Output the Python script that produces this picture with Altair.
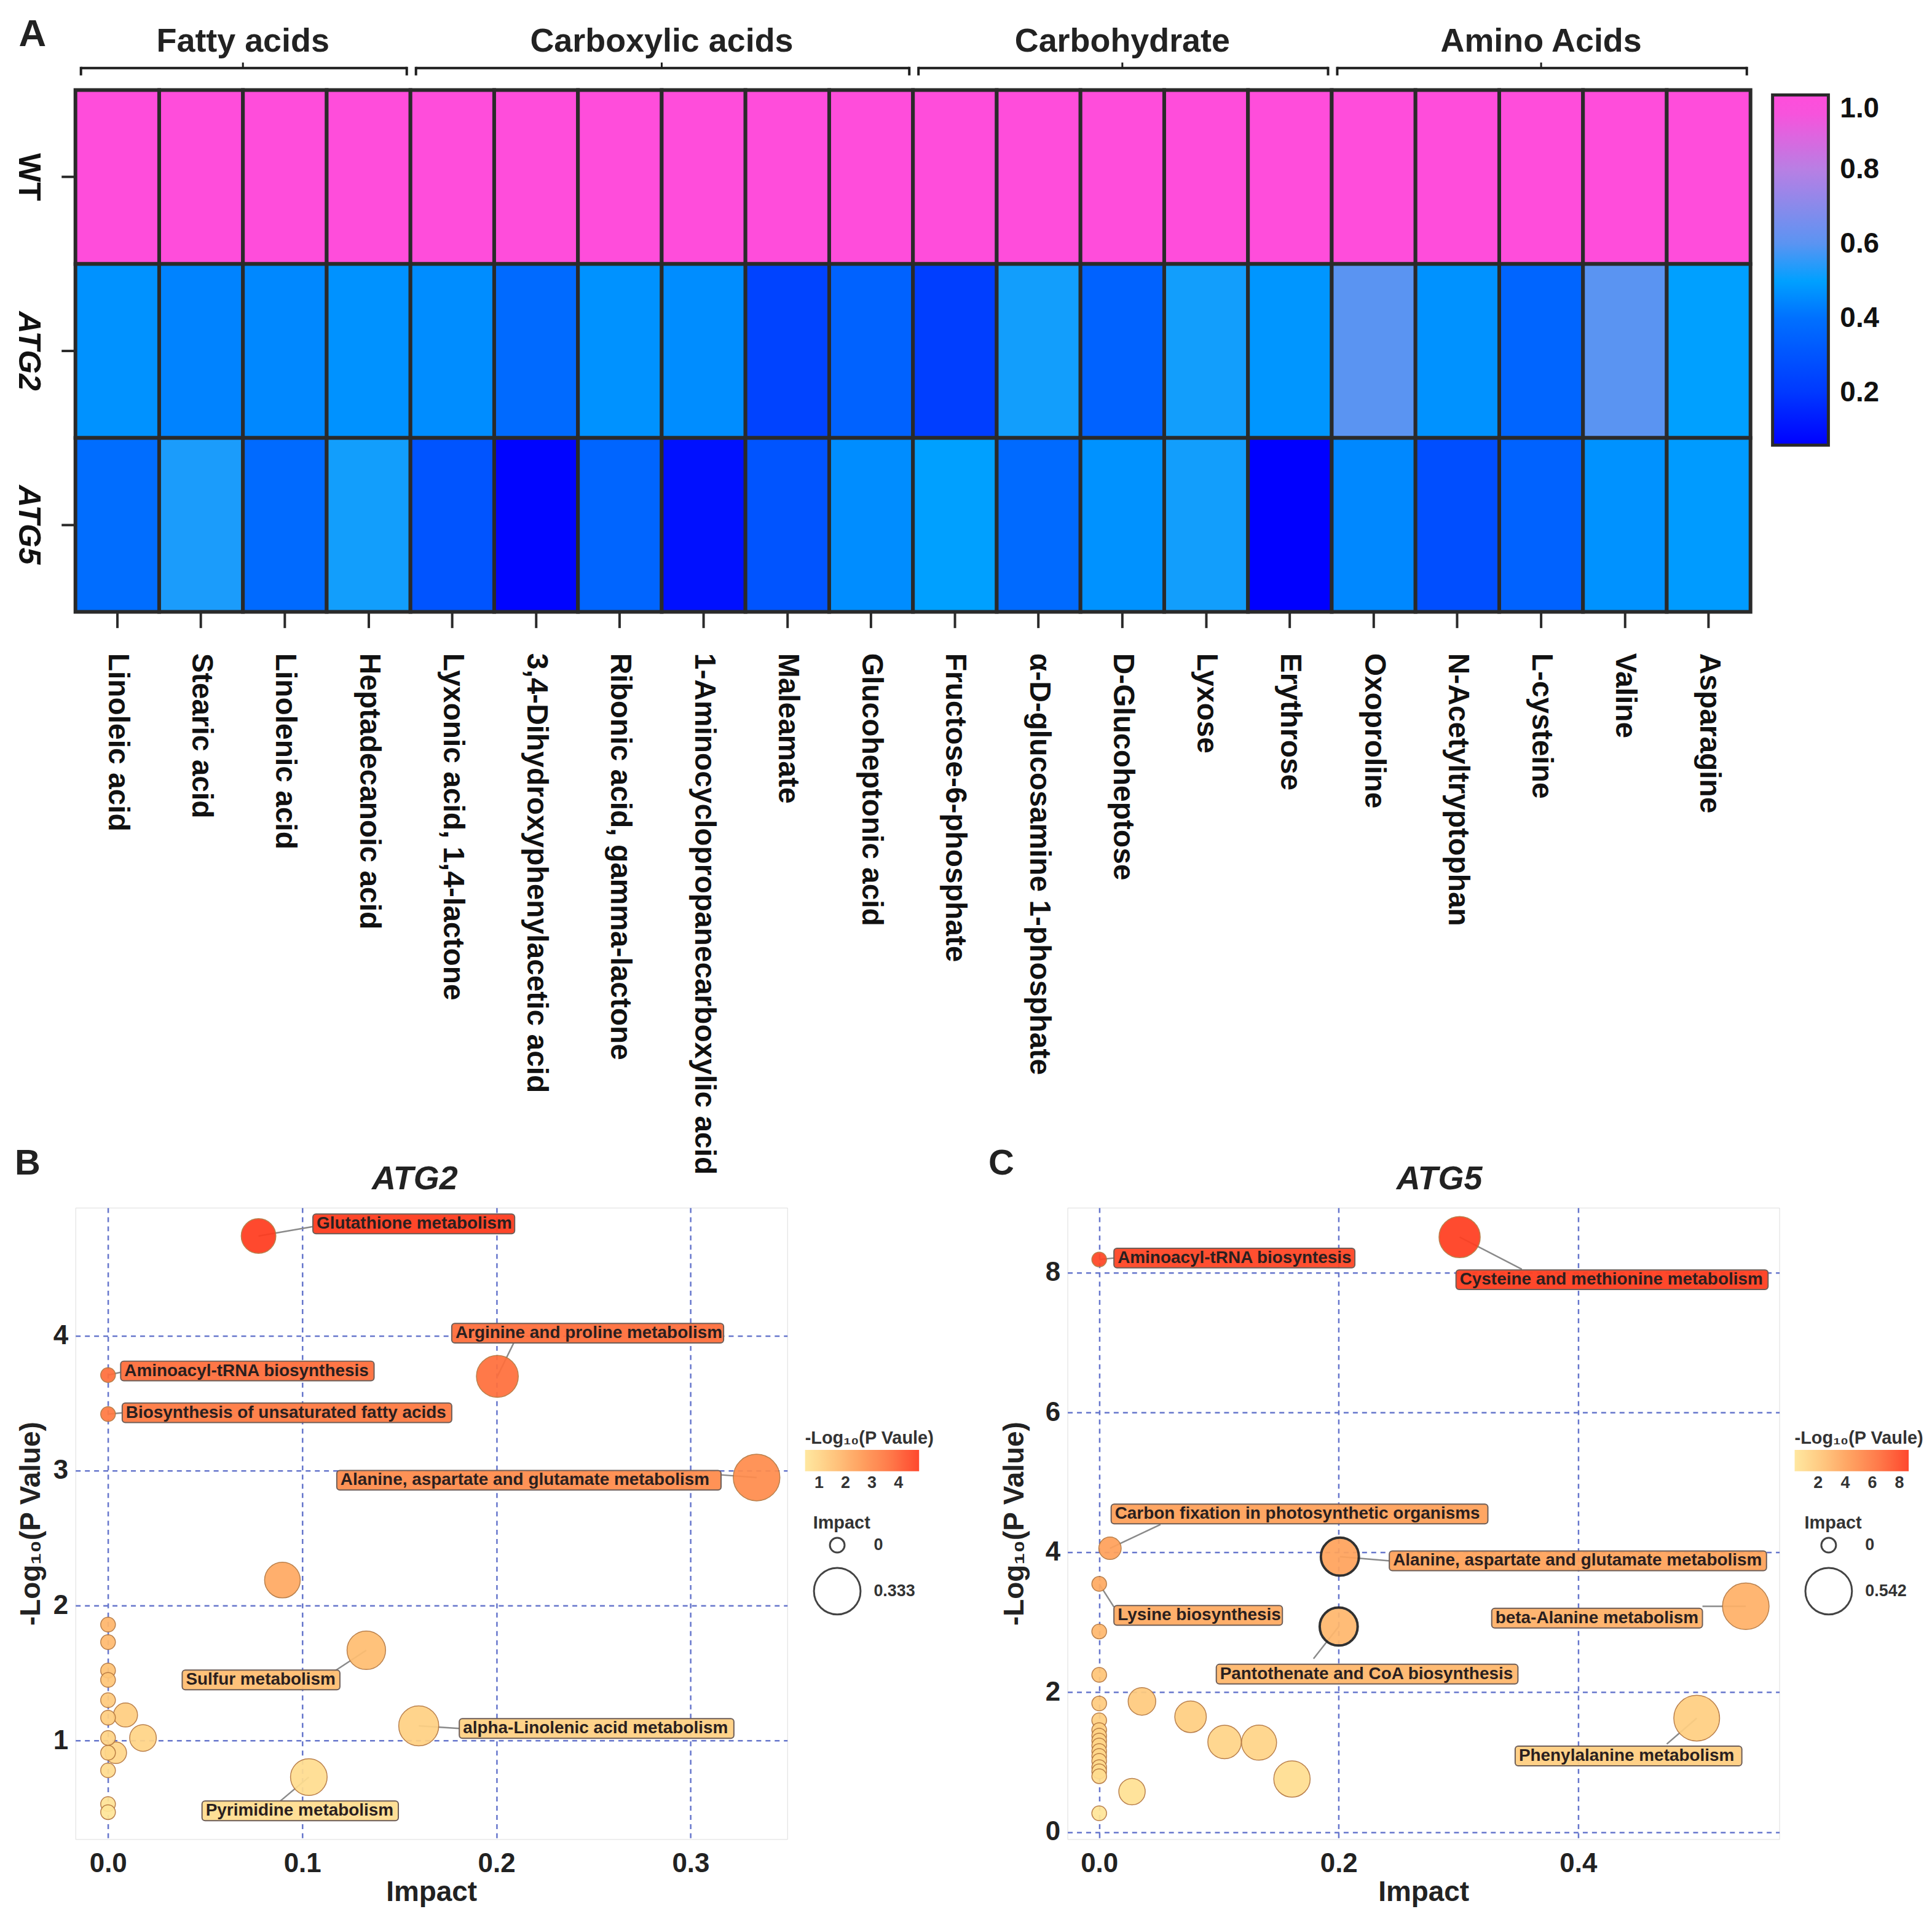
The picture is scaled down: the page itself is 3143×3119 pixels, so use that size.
import altair as alt
import pandas as pd

FONT = "Liberation Sans, Arial, Helvetica, sans-serif"
INK = "#1e1e1e"

# ---------------- Panel A: heatmap ----------------
metabolites = [
    "Linoleic acid", "Stearic acid", "Linolenic acid", "Heptadecanoic acid",
    "Lyxonic acid, 1,4-lactone", "3,4-Dihydroxyphenylacetic acid", "Ribonic acid, gamma-lactone",
    "1-Aminocyclopropanecarboxylic acid", "Maleamate", "Glucoheptonic acid",
    "Fructose-6-phosphate", "α-D-glucosamine 1-phosphate", "D-Glucoheptose", "Lyxose", "Erythrose",
    "Oxoproline", "N-Acetyltryptophan", "L-cysteine", "Valine", "Asparagine",
]
groups = ["Fatty acids", "Carboxylic acids", "Carbohydrate", "Amino Acids"]
group_sizes = [4, 6, 5, 5]
samples = ["WT", "ATG2", "ATG5"]
wt_values = [1.0, 1.0, 1.0, 1.0, 1.0, 1.0, 1.0, 1.0, 1.0, 1.0,
             1.0, 1.0, 1.0, 1.0, 1.0, 1.0, 1.0, 1.0, 1.0, 1.0]
atg2_values = [0.47, 0.44, 0.45, 0.47, 0.46, 0.38, 0.47, 0.46, 0.24, 0.35,
               0.22, 0.52, 0.35, 0.52, 0.48, 0.60, 0.47, 0.36, 0.60, 0.50]
atg5_values = [0.39, 0.53, 0.38, 0.52, 0.30, 0.07, 0.36, 0.10, 0.30, 0.46,
               0.50, 0.38, 0.47, 0.52, 0.06, 0.45, 0.28, 0.35, 0.47, 0.49]
heat_ticks = [0.2, 0.4, 0.6, 0.8, 1.0]
heat_domain = [0.06, 0.2, 0.4, 0.5, 0.6, 0.8, 0.97, 1.0]
heat_range = ["#0000FF", "#0038FF", "#0070FF", "#00A0FF", "#5A94F2", "#B87FE4", "#FF4DDB", "#FF4DDB"]

# ---------------- Panel B: ATG2 pathway bubbles ----------------
b_impact = [0.0775, 0.2005, 0.0, 0.0, 0.334, 0.0898, 0.133, 0.160, 0.1034, 0.009, 0.018, 0.004,
            0.0, 0.0, 0.0, 0.0, 0.0, 0.0, 0.0, 0.0, 0.0, 0.0, 0.0]
b_logp = [4.74, 3.70, 3.71, 3.42, 2.95, 2.19, 1.67, 1.11, 0.73, 1.19, 1.02, 0.91,
          1.86, 1.73, 1.52, 1.45, 1.30, 1.17, 1.02, 0.91, 0.78, 0.53, 0.47]
b_outline = [0, 0, 0, 0, 0, 0, 0, 0, 0, 0, 0, 0, 0, 0, 0, 0, 0, 0, 0, 0, 0, 0, 0]
b_lab_names = ["Glutathione metabolism", "Arginine and proline metabolism", "Aminoacyl-tRNA biosynthesis",
               "Biosynthesis of unsaturated fatty acids", "Alanine, aspartate and glutamate metabolism",
               "Sulfur metabolism", "alpha-Linolenic acid metabolism", "Pyrimidine metabolism"]
b_lab_idx = [0, 1, 2, 3, 4, 6, 7, 8]
b_lab_left = [0.1055, 0.177, 0.0065, 0.0073, 0.1178, 0.0382, 0.1809, 0.0484]
b_lab_right = [0.2094, 0.317, 0.137, 0.177, 0.3157, 0.1194, 0.3223, 0.1495]
b_lab_y = [4.83, 4.02, 3.74, 3.43, 2.93, 1.45, 1.09, 0.48]
b_anchor_x = [0.1055, 0.209, 0.0065, 0.0073, 0.3157, 0.114, 0.1809, 0.0885]
b_anchor_y = [4.81, 3.95, 3.73, 3.43, 2.97, 1.49, 1.09, 0.55]
b_xticks = [0.0, 0.1, 0.2, 0.3]
b_yticks = [1, 2, 3, 4]
b_color_ticks = [1, 2, 3, 4]
b_size_values = [0, 0.333]

# ---------------- Panel C: ATG5 pathway bubbles ----------------
c_impact = [0.301, 0.0, 0.009, 0.201, 0.0, 0.540, 0.200, 0.0357, 0.0763, 0.1047, 0.1335, 0.161, 0.0274, 0.499,
            0.0, 0.0, 0.0, 0.0, 0.0, 0.0, 0.0, 0.0, 0.0, 0.0, 0.0, 0.0, 0.0, 0.0, 0.0]
c_logp = [8.51, 8.19, 4.06, 3.94, 3.55, 3.23, 2.94, 1.87, 1.65, 1.29, 1.28, 0.76, 0.58, 1.63,
          2.87, 2.25, 1.84, 1.60, 1.46, 1.38, 1.31, 1.24, 1.16, 1.09, 1.02, 0.93, 0.87, 0.80, 0.27]
c_outline = [0, 0, 0, 1, 0, 0, 1, 0, 0, 0, 0, 0, 0, 0,
             0, 0, 0, 0, 0, 0, 0, 0, 0, 0, 0, 0, 0, 0, 0]
c_lab_names = ["Aminoacyl-tRNA biosyntesis", "Cysteine and methionine metabolism",
               "Carbon fixation in photosynthetic organisms", "Alanine, aspartate and glutamate metabolism",
               "Lysine biosynthesis", "beta-Alanine metabolism", "Pantothenate and CoA biosynthesis",
               "Phenylalanine metabolism"]
c_lab_idx = [1, 0, 2, 3, 4, 5, 6, 13]
c_lab_left = [0.0123, 0.298, 0.010, 0.2423, 0.0123, 0.3278, 0.0978, 0.3474]
c_lab_right = [0.2135, 0.5586, 0.3246, 0.5573, 0.153, 0.5038, 0.3497, 0.5367]
c_lab_y = [8.21, 7.90, 4.55, 3.88, 3.10, 3.06, 2.26, 1.09]
c_anchor_x = [0.0123, 0.353, 0.0512, 0.2423, 0.0123, 0.5038, 0.179, 0.474]
c_anchor_y = [8.21, 8.05, 4.40, 3.88, 3.22, 3.23, 2.48, 1.26]
c_xticks = [0.0, 0.2, 0.4]
c_yticks = [0, 2, 4, 6, 8]
c_color_ticks = [2, 4, 6, 8]
c_size_values = [0, 0.542]

bubble_range = ["#FFE699", "#FFC477", "#FF9A55", "#FF6F3C", "#FF3A1E"]
b_color_domain = [0.47, 1.5, 2.6, 3.7, 4.78]
c_color_domain = [0.26, 2.3, 4.4, 6.5, 8.69]
GRID = "#6676CC"

# ---------------- build panel A ----------------
heat_rows = []
for s, vals in zip(samples, [wt_values, atg2_values, atg5_values]):
    for m, v in zip(metabolites, vals):
        heat_rows.append({"sample": s, "metabolite": m, "value": v})
heat_df = pd.DataFrame(heat_rows)

starts, ends, mids = [], [], []
pos = 0
for n in group_sizes:
    starts.append(pos)
    ends.append(pos + n)
    mids.append(pos + n / 2)
    pos += n
grp_df = pd.DataFrame({"group": groups, "start": starts, "end": ends, "mid": mids})

HM_W, HM_H = 2732, 851

cells = alt.Chart(heat_df).mark_rect(stroke="#2a2a2a", strokeWidth=6).encode(
    x=alt.X("metabolite:N", sort=metabolites, scale=alt.Scale(paddingInner=0, paddingOuter=0),
            axis=alt.Axis(title=None, orient="bottom", labelAngle=90, labelAlign="left", labelBaseline="middle",
                          labelFont=FONT, labelFontSize=48, labelFontWeight="bold", labelColor="#111111",
                          labelPadding=41, labelLimit=0, labelOverlap=False, tickSize=26, tickWidth=4,
                          tickColor="#2a2a2a", domain=False, grid=False)),
    y=alt.Y("sample:N", sort=samples, scale=alt.Scale(paddingInner=0, paddingOuter=0),
            axis=alt.Axis(title=None, labelAngle=90, labelAlign="center", labelBaseline="top",
                          labelFont=FONT, labelFontSize=50, labelFontWeight="bold", labelColor="#111111",
                          labelPadding=29,
                          labelFontStyle={"condition": {"test": "datum.value === 'WT'", "value": "normal"},
                                          "value": "italic"},
                          tickSize=23, tickWidth=4, tickColor="#2a2a2a", domain=False, grid=False)),
    color=alt.Color("value:Q", scale=alt.Scale(domain=heat_domain, range=heat_range, interpolate="rgb"),
                    legend=alt.Legend(orient="none", legendX=2768, legendY=8, direction="vertical",
                                      title=None, gradientLength=571, gradientThickness=91,
                                      gradientStrokeColor="#2a2a2a", gradientStrokeWidth=5, values=heat_ticks,
                                      format=".1f", labelFont=FONT, labelFontSize=46, labelFontWeight="bold",
                                      labelColor="#111111", labelOffset=19, padding=0)),
)

qscale = alt.Scale(domain=[0, len(metabolites)], nice=False, zero=False)
br_line = alt.Chart(grp_df).mark_rule(color=INK, strokeWidth=4, xOffset=9, x2Offset=-6).encode(
    x=alt.X("start:Q", scale=qscale, axis=None), x2="end:Q", y=alt.value(-36))
br_left = alt.Chart(grp_df).mark_rule(color=INK, strokeWidth=4, xOffset=9).encode(
    x=alt.X("start:Q", scale=qscale, axis=None), y=alt.value(-38), y2=alt.value(-24))
br_right = alt.Chart(grp_df).mark_rule(color=INK, strokeWidth=4, xOffset=-6).encode(
    x=alt.X("end:Q", scale=qscale, axis=None), y=alt.value(-38), y2=alt.value(-24))
br_mid = alt.Chart(grp_df).mark_rule(color=INK, strokeWidth=3).encode(
    x=alt.X("mid:Q", scale=qscale, axis=None), y=alt.value(-36), y2=alt.value(-45))
br_text = alt.Chart(grp_df).mark_text(font=FONT, fontSize=54, fontWeight="bold", color="#222222",
                                      align="center", baseline="alphabetic").encode(
    x=alt.X("mid:Q", scale=qscale, axis=None), y=alt.value(-63), text="group:N")
letter_a = alt.Chart(pd.DataFrame({"t": ["A"]})).mark_text(
    font=FONT, fontSize=62, fontWeight="bold", color="#222222", align="center", baseline="alphabetic").encode(
    x=alt.value(-70), y=alt.value(-72), text="t:N")

heat_chart = alt.layer(cells, br_line, br_left, br_right, br_mid, br_text, letter_a).resolve_scale(
    x="independent").properties(width=HM_W, height=HM_H)

PANEL_W, PANEL_H = 1161, 1030


# ---------------- build bubble panels ----------------
def bubble_panel(title, title_dx, letter, letter_x, impact, logp, outline, lab_names, lab_idx, lab_left,
                 lab_right, lab_y, anc_x, anc_y, xdom, ydom, xticks, yticks, cdom, cticks, size_vals,
                 ytitle_pad, leg_cx, leg_sx):
    bub = pd.DataFrame({"impact": impact, "logp": logp, "outline": outline})
    labs = pd.DataFrame({
        "name": lab_names, "left": lab_left, "right": lab_right, "ly": lab_y,
        "ax": anc_x, "ay": anc_y,
        "bx": [impact[i] for i in lab_idx], "by": [logp[i] for i in lab_idx],
        "logp": [logp[i] for i in lab_idx],
    })
    xs = alt.Scale(domain=xdom, nice=False, zero=False)
    ys = alt.Scale(domain=ydom, nice=False, zero=False)
    cs = alt.Scale(domain=cdom, range=bubble_range, interpolate="rgb")
    xaxis = alt.Axis(title="Impact", values=xticks, format=".1f", grid=True, gridColor=GRID,
                     gridDash=[8, 7], gridWidth=2.5, ticks=False, domain=False,
                     labelFont=FONT, labelFontSize=44, labelFontWeight="bold", labelColor="#222222",
                     labelPadding=18, titleFont=FONT, titleFontSize=46, titleFontWeight="bold",
                     titleColor="#222222", titlePadding=2)
    yaxis = alt.Axis(title="-Log₁₀(P Value)", values=yticks, format="d", grid=True, gridColor=GRID,
                     gridDash=[8, 7], gridWidth=2.5, ticks=False, domain=False,
                     labelFont=FONT, labelFontSize=44, labelFontWeight="bold", labelColor="#222222",
                     labelPadding=12, titleFont=FONT, titleFontSize=46, titleFontWeight="bold",
                     titleColor="#222222", titlePadding=ytitle_pad)

    leaders = alt.Chart(labs).mark_rule(color="#8a8a8a", strokeWidth=2.5).encode(
        x=alt.X("bx:Q", scale=xs, axis=xaxis), x2="ax:Q",
        y=alt.Y("by:Q", scale=ys, axis=yaxis), y2="ay:Q")

    bubbles = alt.Chart(bub).mark_circle(opacity=0.93).encode(
        x=alt.X("impact:Q", scale=xs, axis=xaxis),
        y=alt.Y("logp:Q", scale=ys, axis=yaxis),
        color=alt.Color("logp:Q", scale=cs, legend=alt.Legend(
            orient="none", legendX=leg_cx, legendY=362, direction="horizontal", title="-Log₁₀(P Vaule)",
            titleFont=FONT, titleFontSize=29, titleFontWeight="bold", titleColor="#333333", titlePadding=4,
            titleLimit=500,
            gradientLength=186, gradientThickness=35, gradientStrokeWidth=0, values=cticks, format="d",
            labelFont=FONT, labelFontSize=27, labelFontWeight="bold", labelColor="#333333", labelOffset=6,
            padding=0)),
        size=alt.Size("impact:Q", scale=alt.Scale(type="pow", exponent=0.47, domain=[0, size_vals[1]],
                                                  range=[576, 5776]),
                      legend=alt.Legend(
                          orient="none", legendX=leg_sx, legendY=500, title="Impact", titleFont=FONT,
                          titleFontSize=29, titleFontWeight="bold", titleColor="#333333", titlePadding=8,
                          values=size_vals,
                          labelExpr="datum.value == 0 ? '0' : format(datum.value, '.3f')",
                          symbolType="circle", symbolFillColor="white", symbolStrokeColor="#444444",
                          symbolStrokeWidth=3, symbolOpacity=1, labelFont=FONT, labelFontSize=27,
                          labelFontWeight="bold", labelColor="#333333", labelOffset=20, rowPadding=12,
                          padding=0)),
        stroke=alt.condition("datum.outline == 1", alt.value("#222222"), alt.value("#b5773f")),
        strokeWidth=alt.condition("datum.outline == 1", alt.value(4), alt.value(1.5)),
    )

    boxes = alt.Chart(labs).mark_rect(cornerRadius=5, stroke="#6e5e58", strokeWidth=2, yOffset=-16,
                                      y2Offset=16, fillOpacity=0.95).encode(
        x=alt.X("left:Q", scale=xs, axis=xaxis), x2="right:Q",
        y=alt.Y("ly:Q", scale=ys, axis=yaxis), y2="ly:Q",
        fill=alt.Fill("logp:Q", scale=cs, legend=None))

    texts = alt.Chart(labs).mark_text(align="left", baseline="middle", dx=6, font=FONT, fontSize=28,
                                      fontWeight="bold", color="#2a1f1f").encode(
        x=alt.X("left:Q", scale=xs, axis=xaxis), y=alt.Y("ly:Q", scale=ys, axis=yaxis), text="name:N")

    heads = pd.DataFrame({"t": [letter, title], "kind": ["letter", "title"]})
    letter_mark = alt.Chart(heads).transform_filter("datum.kind == 'letter'").mark_text(
        font=FONT, fontSize=58, fontWeight="bold", color="#222222", align="center",
        baseline="alphabetic").encode(x=alt.value(letter_x), y=alt.value(-54), text="t:N")
    title_mark = alt.Chart(heads).transform_filter("datum.kind == 'title'").mark_text(
        font=FONT, fontSize=54, fontWeight="bold", fontStyle="italic", color="#222222", align="center",
        baseline="alphabetic").encode(x=alt.value(PANEL_W / 2 + title_dx), y=alt.value(-30), text="t:N")

    return alt.layer(leaders, bubbles, boxes, texts, letter_mark, title_mark).properties(
        width=PANEL_W, height=PANEL_H)


panel_b = bubble_panel("ATG2", -27, "B", -78, b_impact, b_logp, b_outline, b_lab_names, b_lab_idx,
                       b_lab_left, b_lab_right, b_lab_y, b_anchor_x, b_anchor_y,
                       [-0.0168, 0.3498], [0.27, 4.95], b_xticks, b_yticks, b_color_domain, b_color_ticks,
                       b_size_values, 12, 1190, 1203)
panel_c = bubble_panel("ATG5", 26, "C", -108, c_impact, c_logp, c_outline, c_lab_names, c_lab_idx,
                       c_lab_left, c_lab_right, c_lab_y, c_anchor_x, c_anchor_y,
                       [-0.0265, 0.568], [-0.1, 8.93], c_xticks, c_yticks, c_color_domain, c_color_ticks,
                       c_size_values, 26, 1186, 1202)

bottom_row = alt.hconcat(panel_b, panel_c, spacing=457, bounds="flush").resolve_scale(
    color="independent", size="independent", fill="independent").resolve_legend(
    color="independent", size="independent", fill="independent")

chart = alt.vconcat(
    heat_chart,
    bottom_row,
    spacing=972, bounds="flush",
).resolve_scale(
    color="independent", size="independent", fill="independent"
).resolve_legend(
    color="independent", size="independent", fill="independent"
).properties(
    padding={"left": 12, "top": 12, "right": 4, "bottom": 4}
).configure_view(stroke=INK, strokeWidth=4).configure(font=FONT)

chart.save("out.html", embed_options={"renderer": "svg", "actions": False})
